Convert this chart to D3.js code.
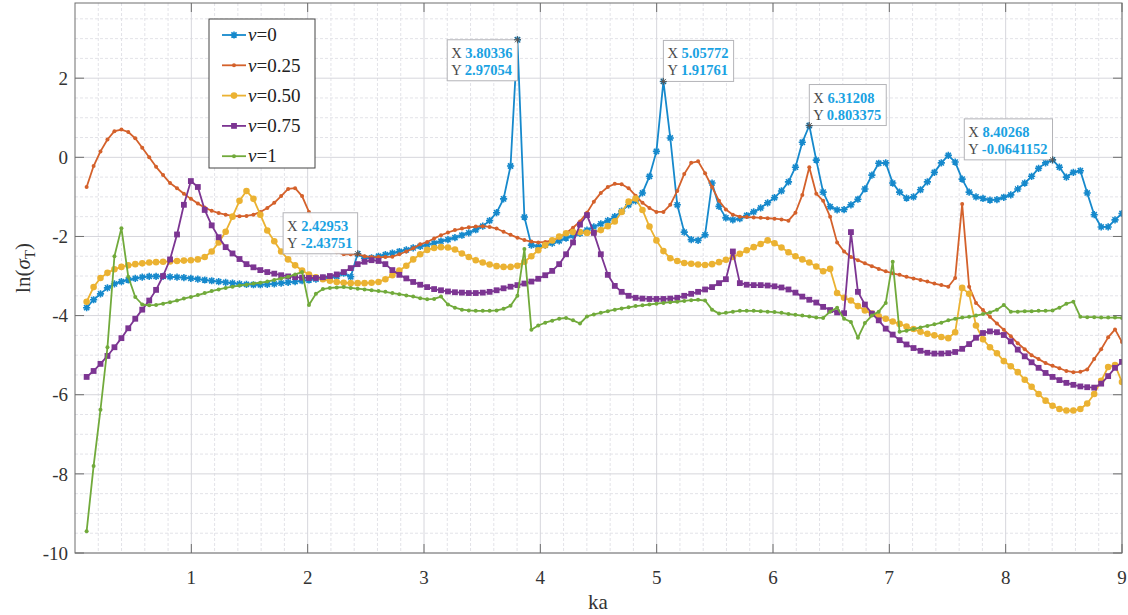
<!DOCTYPE html>
<html>
<head>
<meta charset="utf-8">
<script src="https://cdn.jsdelivr.net/npm/d3@7"></script>
<style>
  html, body { margin: 0; padding: 0; background: #fff; }
  svg text { font-family: "Liberation Serif", "DejaVu Serif", serif; }
</style>
</head>
<body>
<svg id="chart" width="1128" height="615"></svg>
<script>
// ka grid (150 samples, 0.1 .. 9)
const ka = [
  0.100, 0.160, 0.219, 0.279, 0.339, 0.399, 0.458, 0.518, 0.578, 0.638,
  0.697, 0.757, 0.817, 0.877, 0.936, 0.996, 1.056, 1.115, 1.175, 1.235,
  1.295, 1.354, 1.414, 1.474, 1.534, 1.593, 1.653, 1.713, 1.772, 1.832,
  1.892, 1.952, 2.011, 2.071, 2.131, 2.191, 2.250, 2.310, 2.370, 2.430,
  2.489, 2.549, 2.609, 2.668, 2.728, 2.788, 2.848, 2.907, 2.967, 3.027,
  3.087, 3.146, 3.206, 3.266, 3.326, 3.385, 3.445, 3.505, 3.564, 3.624,
  3.684, 3.744, 3.803, 3.863, 3.923, 3.982, 4.042, 4.102, 4.162, 4.221,
  4.281, 4.341, 4.401, 4.460, 4.520, 4.580, 4.640, 4.699, 4.759, 4.819,
  4.878, 4.938, 4.998, 5.058, 5.117, 5.177, 5.237, 5.297, 5.356, 5.416,
  5.476, 5.536, 5.595, 5.655, 5.715, 5.774, 5.834, 5.894, 5.954, 6.013,
  6.073, 6.133, 6.193, 6.252, 6.312, 6.372, 6.431, 6.491, 6.551, 6.611,
  6.670, 6.730, 6.790, 6.850, 6.909, 6.969, 7.029, 7.088, 7.148, 7.208,
  7.268, 7.327, 7.387, 7.447, 7.507, 7.566, 7.626, 7.686, 7.745, 7.805,
  7.865, 7.925, 7.984, 8.044, 8.104, 8.164, 8.223, 8.283, 8.343, 8.403,
  8.462, 8.522, 8.582, 8.642, 8.701, 8.761, 8.821, 8.881, 8.940, 9.000
];

// ln(sigma_T) for each nu
const nu0 = [
  -3.80, -3.60, -3.45, -3.30, -3.20, -3.14, -3.10, -3.06, -3.03, -3.01,
  -3.01, -3.01, -3.02, -3.03, -3.04, -3.06, -3.08, -3.10, -3.12, -3.14,
  -3.16, -3.18, -3.20, -3.21, -3.22, -3.22, -3.21, -3.20, -3.18, -3.16,
  -3.14, -3.12, -3.10, -3.08, -3.06, -3.04, -3.01, -2.93, -3.02, -2.43751,
  -2.55, -2.54, -2.50, -2.46, -2.42, -2.38, -2.34, -2.29, -2.25, -2.21,
  -2.17, -2.12, -2.08, -2.03, -1.97, -1.91, -1.83, -1.74, -1.60, -1.40,
  -1.05, -0.22, 2.97054, -1.51, -2.22, -2.26, -2.22, -2.17, -2.11, -2.04,
  -1.98, -1.92, -1.84, -1.76, -1.68, -1.60, -1.50, -1.36, -1.20, -1.10,
  -0.90, -0.48, 0.15, 1.91761, 0.49, -1.20, -1.89, -2.08, -2.10, -1.96,
  -0.65, -1.24, -1.53, -1.58, -1.55, -1.47, -1.38, -1.28, -1.15, -1.02,
  -0.85, -0.62, -0.25, 0.38, 0.803375, -0.07, -0.88, -1.25, -1.33, -1.32,
  -1.20, -1.06, -0.80, -0.45, -0.15, -0.14, -0.65, -0.88, -1.03, -1.00,
  -0.82, -0.62, -0.38, -0.14, 0.05, -0.12, -0.55, -0.88, -1.00, -1.04,
  -1.08, -1.07, -1.01, -0.95, -0.80, -0.65, -0.48, -0.28, -0.14, -0.0641152,
  -0.25, -0.50, -0.38, -0.34, -0.90, -1.45, -1.76, -1.76, -1.58, -1.42
];
const nu025 = [
  -0.75, -0.22, 0.15, 0.45, 0.66, 0.70, 0.64, 0.48, 0.24, 0.00,
  -0.24, -0.45, -0.65, -0.78, -0.92, -1.05, -1.17, -1.27, -1.35, -1.41,
  -1.45, -1.48, -1.49, -1.48, -1.45, -1.38, -1.28, -1.15, -0.98, -0.80,
  -0.78, -0.98, -1.38, -1.80, -2.10, -2.30, -2.40, -2.45, -2.45, -2.45,
  -2.50, -2.52, -2.52, -2.52, -2.51, -2.45, -2.38, -2.30, -2.20, -2.14,
  -2.05, -1.97, -1.90, -1.84, -1.80, -1.77, -1.75, -1.74, -1.76, -1.80,
  -1.88, -1.96, -2.03, -2.09, -2.13, -2.15, -2.14, -2.10, -2.03, -1.92,
  -1.78, -1.62, -1.40, -1.12, -0.90, -0.75, -0.67, -0.68, -0.78, -0.97,
  -1.15, -1.28, -1.38, -1.38, -1.20, -0.85, -0.42, -0.14, -0.10, -0.40,
  -0.75, -1.10, -1.32, -1.45, -1.50, -1.51, -1.52, -1.53, -1.54, -1.55,
  -1.57, -1.60, -1.40, -0.95, -0.25, -0.92, -1.10, -1.50, -2.15, -2.38,
  -2.52, -2.60, -2.68, -2.75, -2.82, -2.88, -2.93, -2.97, -3.02, -3.06,
  -3.10, -3.14, -3.19, -3.23, -3.27, -3.05, -1.18, -3.27, -3.68, -3.86,
  -4.03, -4.20, -4.36, -4.52, -4.70, -4.85, -5.00, -5.10, -5.20, -5.27,
  -5.33, -5.40, -5.43, -5.42, -5.36, -5.10, -4.85, -4.55, -4.35, -4.67
];
const nu050 = [
  -3.65, -3.28, -3.05, -2.92, -2.83, -2.77, -2.73, -2.70, -2.68, -2.66,
  -2.65, -2.64, -2.63, -2.62, -2.61, -2.60, -2.58, -2.52, -2.38, -2.15,
  -1.88, -1.50, -1.10, -0.85, -1.05, -1.45, -1.85, -2.12, -2.38, -2.58,
  -2.73, -2.86, -2.96, -3.03, -3.08, -3.12, -3.15, -3.17, -3.18, -3.18,
  -3.18, -3.17, -3.15, -3.08, -2.98, -2.86, -2.74, -2.58, -2.45, -2.34,
  -2.29, -2.27, -2.28, -2.33, -2.43, -2.52, -2.60, -2.66, -2.71, -2.75,
  -2.77, -2.77, -2.74, -2.64, -2.50, -2.35, -2.22, -2.10, -2.00, -1.92,
  -1.89, -1.89, -1.91, -1.90, -1.84, -1.74, -1.62, -1.38, -1.12, -1.04,
  -1.33, -1.75, -2.10, -2.37, -2.55, -2.62, -2.67, -2.69, -2.71, -2.72,
  -2.70, -2.65, -2.59, -2.52, -2.44, -2.35, -2.27, -2.19, -2.10, -2.17,
  -2.28, -2.40, -2.50, -2.58, -2.66, -2.76, -2.88, -2.82, -3.43, -3.55,
  -3.62, -3.76, -3.87, -3.95, -4.02, -4.08, -4.15, -4.21, -4.28, -4.34,
  -4.41, -4.46, -4.50, -4.54, -4.57, -4.42, -3.30, -3.45, -4.25, -4.60,
  -4.80, -4.95, -5.15, -5.28, -5.43, -5.62, -5.80, -5.98, -6.15, -6.28,
  -6.36, -6.40, -6.40, -6.36, -6.22, -5.98, -5.65, -5.30, -5.25, -5.68
];
const nu075 = [
  -5.55, -5.40, -5.22, -5.02, -4.80, -4.57, -4.32, -4.08, -3.85, -3.62,
  -3.35, -3.00, -2.58, -1.95, -1.20, -0.60, -0.75, -1.33, -1.72, -2.02,
  -2.27, -2.43, -2.57, -2.70, -2.78, -2.85, -2.90, -2.94, -2.98, -3.01,
  -3.03, -3.04, -3.05, -3.05, -3.03, -3.00, -2.96, -2.90, -2.80, -2.70,
  -2.64, -2.60, -2.62, -2.70, -2.85, -2.97, -3.06, -3.15, -3.22, -3.28,
  -3.33, -3.36, -3.39, -3.41, -3.42, -3.43, -3.43, -3.42, -3.40, -3.36,
  -3.31, -3.27, -3.23, -3.19, -3.14, -3.07, -2.98, -2.87, -2.70, -2.45,
  -2.15, -1.70, -1.46, -1.91, -2.45, -2.97, -3.25, -3.40, -3.50, -3.55,
  -3.57, -3.58, -3.58, -3.58, -3.57, -3.55, -3.50, -3.45, -3.40, -3.34,
  -3.28, -3.18, -3.08, -2.38, -3.18, -3.22, -3.23, -3.23, -3.24, -3.26,
  -3.29, -3.34, -3.42, -3.52, -3.60, -3.67, -3.78, -3.86, -3.92, -3.94,
  -1.89, -3.40, -3.72, -3.95, -4.12, -4.33, -4.48, -4.62, -4.73, -4.82,
  -4.89, -4.94, -4.96, -4.96, -4.95, -4.92, -4.84, -4.72, -4.56, -4.44,
  -4.40, -4.42, -4.49, -4.65, -4.86, -5.03, -5.18, -5.32, -5.45, -5.55,
  -5.63, -5.70, -5.75, -5.79, -5.81, -5.82, -5.72, -5.53, -5.32, -5.17
];
const nu1 = [
  -9.45, -7.80, -6.38, -4.80, -2.50, -1.79, -3.02, -3.53, -3.72, -3.74,
  -3.73, -3.70, -3.66, -3.62, -3.57, -3.53, -3.48, -3.43, -3.38, -3.34,
  -3.30, -3.27, -3.24, -3.22, -3.19, -3.17, -3.14, -3.10, -3.06, -3.02,
  -2.96, -2.90, -3.73, -3.45, -3.33, -3.30, -3.29, -3.28, -3.30, -3.32,
  -3.34, -3.36, -3.38, -3.40, -3.43, -3.46, -3.49, -3.52, -3.56, -3.59,
  -3.58, -3.52, -3.72, -3.80, -3.85, -3.87, -3.88, -3.88, -3.88, -3.87,
  -3.83, -3.75, -3.50, -2.32, -4.36, -4.25, -4.18, -4.13, -4.08, -4.06,
  -4.12, -4.20, -4.02, -3.97, -3.93, -3.89, -3.85, -3.82, -3.79, -3.76,
  -3.74, -3.72, -3.70, -3.68, -3.66, -3.65, -3.63, -3.61, -3.60, -3.62,
  -3.85, -3.95, -3.93, -3.90, -3.88, -3.88, -3.88, -3.89, -3.90, -3.91,
  -3.93, -3.96, -3.98, -4.00, -4.02, -4.05, -4.06, -3.90, -3.80, -4.08,
  -4.16, -4.56, -4.19, -4.00, -3.90, -3.68, -2.64, -4.41, -4.38, -4.34,
  -4.30, -4.26, -4.22, -4.18, -4.12, -4.08, -4.05, -4.03, -4.00, -3.96,
  -3.92, -3.85, -3.73, -3.90, -3.90, -3.89, -3.89, -3.88, -3.88, -3.87,
  -3.80, -3.70, -3.65, -4.03, -4.04, -4.04, -4.05, -4.05, -4.05, -4.06
];

const nuLabels = ["0", "0.25", "0.50", "0.75", "1"];
const xTicks = [1, 2, 3, 4, 5, 6, 7, 8, 9];
const yTicks = [-10, -8, -6, -4, -2, 0, 2];

// data tips on the nu=0 curve
const tipX = [3.80336, 5.05772, 6.31208, 8.40268, 2.42953];
const tipY = [2.97054, 1.91761, 0.803375, -0.0641152, -2.43751];
const tipPlace = ["below-left", "above-right", "above-right", "above-left", "above-left"];

const seriesValues = [nu0, nu025, nu050, nu075, nu1];
const colors = ["#1689cc", "#d4612b", "#ebb232", "#7c3592", "#71aa3b"];
const markers = ["star", "dot", "circle", "square", "dot"];

const SERIF = "'Liberation Serif', 'DejaVu Serif', serif";
const pL = 75, pR = 1122, pT = 3, pB = 553;
const x = d3.scaleLinear().domain([0, 9]).range([pL, pR]);
const y = d3.scaleLinear().domain([-10, 3.9]).range([pB, pT]);

const svg = d3.select("#chart").attr("font-family", SERIF);

// grid
const grid = svg.append("g");
grid.selectAll(".vminor").data(d3.range(1, 45).map(k => k * 0.2).filter(v => Math.abs(v - Math.round(v)) > 1e-6))
  .join("line")
  .attr("x1", d => x(d)).attr("x2", d => x(d))
  .attr("y1", pT).attr("y2", pB)
  .attr("stroke", "#e3e3e8").attr("stroke-dasharray", "3,2");
grid.selectAll(".hminor").data(d3.range(-20, 8).map(k => k * 0.5).filter(v => Math.abs(v / 2 - Math.round(v / 2)) > 1e-6))
  .join("line")
  .attr("x1", pL).attr("x2", pR)
  .attr("y1", d => y(d)).attr("y2", d => y(d))
  .attr("stroke", "#e3e3e8").attr("stroke-dasharray", "3,2");
grid.selectAll(".vmajor").data(xTicks).join("line")
  .attr("x1", d => x(d)).attr("x2", d => x(d))
  .attr("y1", pT).attr("y2", pB)
  .attr("stroke", "#d6d6dc");
grid.selectAll(".hmajor").data(yTicks).join("line")
  .attr("x1", pL).attr("x2", pR)
  .attr("y1", d => y(d)).attr("y2", d => y(d))
  .attr("stroke", "#d6d6dc");

// clip
svg.append("clipPath").attr("id", "plotclip")
  .append("rect").attr("x", pL).attr("y", pT).attr("width", pR - pL).attr("height", pB - pT);

function starPath(s) {
  const a = s * 0.72;
  return `M${-s},0L${s},0M0,${-s}L0,${s}M${-a},${-a}L${a},${a}M${-a},${a}L${a},${-a}`;
}

function drawMarker(g, type, color) {
  if (type === "star") {
    g.append("path").attr("d", starPath(3.6))
      .attr("stroke", color).attr("stroke-width", 1.6).attr("fill", "none");
    g.append("circle").attr("r", 1.8).attr("fill", color);
  } else if (type === "dot") {
    g.append("circle").attr("r", 2).attr("fill", color);
  } else if (type === "circle") {
    g.append("circle").attr("r", 3.3).attr("fill", color);
  } else if (type === "square") {
    g.append("rect").attr("x", -2.9).attr("y", -2.9).attr("width", 5.8).attr("height", 5.8).attr("fill", color);
  }
}

const plot = svg.append("g").attr("clip-path", "url(#plotclip)");
const line = d3.line().x((d, i) => x(ka[i])).y(d => y(d));

seriesValues.forEach((vals, s) => {
  const g = plot.append("g");
  g.append("path").datum(vals)
    .attr("d", line)
    .attr("fill", "none")
    .attr("stroke", colors[s])
    .attr("stroke-width", 1.8)
    .attr("stroke-linejoin", "round");
  g.selectAll("g.m").data(vals).join("g")
    .attr("transform", (d, i) => `translate(${x(ka[i])},${y(d)})`)
    .each(function () { drawMarker(d3.select(this), markers[s], colors[s]); });
});

// axes box and ticks (inward, on all four sides)
const axis = svg.append("g").attr("stroke", "#6e6e6e").attr("fill", "none");
axis.append("rect").attr("x", pL).attr("y", pT).attr("width", pR - pL).attr("height", pB - pT)
  .attr("stroke-width", 1);
xTicks.forEach(t => {
  axis.append("line").attr("x1", x(t)).attr("x2", x(t)).attr("y1", pB).attr("y2", pB - 9);
  axis.append("line").attr("x1", x(t)).attr("x2", x(t)).attr("y1", pT).attr("y2", pT + 9);
});
yTicks.forEach(t => {
  axis.append("line").attr("x1", pL).attr("x2", pL + 9).attr("y1", y(t)).attr("y2", y(t));
  axis.append("line").attr("x1", pR).attr("x2", pR - 9).attr("y1", y(t)).attr("y2", y(t));
});

// tick labels
svg.append("g").selectAll("text").data(xTicks).join("text")
  .attr("x", d => x(d)).attr("y", 584)
  .attr("text-anchor", "middle")
  .attr("font-family", SERIF)
  .attr("font-size", 19).attr("fill", "#333")
  .text(d => d);
svg.append("g").selectAll("text").data(yTicks).join("text")
  .attr("x", 68).attr("y", d => y(d)).attr("dy", "0.35em")
  .attr("text-anchor", "end")
  .attr("font-family", SERIF)
  .attr("font-size", 19).attr("fill", "#333")
  .text(d => d);

// axis titles
svg.append("text").attr("x", 598).attr("y", 609)
  .attr("text-anchor", "middle").attr("font-family", SERIF).attr("font-size", 21).attr("fill", "#333")
  .text("ka");
const yl = svg.append("text")
  .attr("transform", "translate(30,268) rotate(-90)")
  .attr("text-anchor", "middle").attr("font-family", SERIF).attr("font-size", 21).attr("fill", "#333");
yl.append("tspan").text("ln(");
yl.append("tspan").attr("font-style", "italic").text("σ");
yl.append("tspan").attr("font-size", 15).attr("dy", 5).text("T");
yl.append("tspan").attr("dy", -5).text(")");

// data tips
const fmt = v => d3.format(".6~g")(v).replace("\u2212", "-");
tipX.forEach((tx, k) => {
  const px = x(tx), py = y(tipY[k]);
  const g = svg.append("g");
  const txt = g.append("g").attr("font-family", SERIF).attr("font-size", 14.5);
  const l1 = txt.append("text").attr("x", 0).attr("y", 0);
  l1.append("tspan").attr("fill", "#4a4a4a").text("X ");
  l1.append("tspan").attr("fill", "#1aa2e2").attr("font-weight", "bold").text(fmt(tx));
  const l2 = txt.append("text").attr("x", 0).attr("y", 17);
  l2.append("tspan").attr("fill", "#4a4a4a").text("Y ");
  l2.append("tspan").attr("fill", "#1aa2e2").attr("font-weight", "bold").text(fmt(tipY[k]));
  const tw = Math.max(l1.node().getComputedTextLength(), l2.node().getComputedTextLength());
  const bw = tw + 9, bh = 41;
  let bx = px, by = py;
  if (tipPlace[k].includes("left")) bx = px - bw;
  if (tipPlace[k].includes("above")) by = py - bh;
  g.insert("rect", ":first-child")
    .attr("x", bx).attr("y", by).attr("width", bw).attr("height", bh)
    .attr("fill", "#fff").attr("fill-opacity", 0.96)
    .attr("stroke", "#b4b4b8").attr("stroke-width", 1);
  txt.attr("transform", `translate(${bx + 4},${by + 18})`);
  svg.append("path").attr("d", starPath(3.5))
    .attr("transform", `translate(${px},${py})`)
    .attr("stroke", "#555").attr("stroke-width", 1).attr("fill", "none");
});

// legend
const lg = svg.append("g");
lg.append("rect").attr("x", 209).attr("y", 19).attr("width", 106).attr("height", 149)
  .attr("fill", "#fff").attr("stroke", "#444").attr("stroke-width", 1);
nuLabels.forEach((lab, s) => {
  const cy = 35 + s * 30.3;
  lg.append("line").attr("x1", 222).attr("x2", 246).attr("y1", cy).attr("y2", cy)
    .attr("stroke", colors[s]).attr("stroke-width", 1.8);
  drawMarker(lg.append("g").attr("transform", `translate(234,${cy})`), markers[s], colors[s]);
  const t = lg.append("text").attr("x", 248).attr("y", cy).attr("dy", "0.33em")
    .attr("font-family", SERIF).attr("font-size", 19).attr("fill", "#222");
  t.append("tspan").attr("font-style", "italic").text("ν");
  t.append("tspan").text("=" + lab);
});
</script>
</body>
</html>
